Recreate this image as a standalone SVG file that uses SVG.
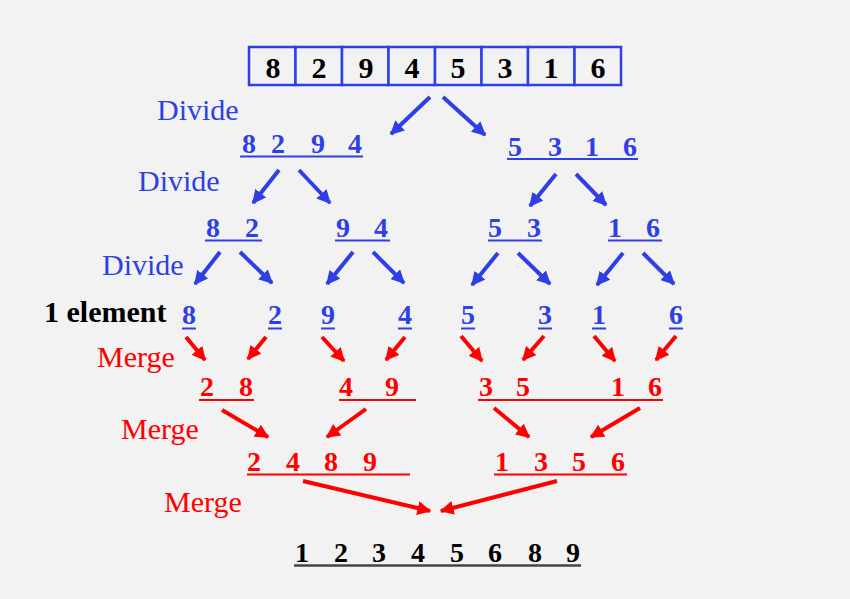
<svg xmlns="http://www.w3.org/2000/svg" width="850" height="599" viewBox="0 0 850 599">
<style>
.bg{fill:#f2f2f2}
.cell{fill:#f2f2f2;stroke:#2e3fe6;stroke-width:2.5}
.d{font-weight:bold;text-anchor:middle}
.box{font-size:30px;fill:#000}
.b{font-size:28px;fill:#2e3fe6}
.r{font-size:28px;fill:#ff0000}
.k{font-size:28px;fill:#000}
.lbl{font-size:30px}
.ub{stroke:#2e3fe6;stroke-width:2}
.ur{stroke:#ff0000;stroke-width:2}
.uk{stroke:#444;stroke-width:2.5}
.ab{stroke:#2e3fe6;stroke-width:4;fill:none;marker-end:url(#hb)}
.ar{stroke:#ff0000;stroke-width:4;fill:none;marker-end:url(#hr)}
</style>
<defs>
<marker id="hb" viewBox="0 0 10 10" refX="9" refY="5" markerWidth="14" markerHeight="14" markerUnits="userSpaceOnUse" orient="auto"><path d="M0,0 L10,5 L0,10 z" fill="#2e3fe6"/></marker>
<marker id="hr" viewBox="0 0 10 10" refX="9" refY="5" markerWidth="14" markerHeight="14" markerUnits="userSpaceOnUse" orient="auto"><path d="M0,0 L10,5 L0,10 z" fill="#ff0000"/></marker>
</defs>
<rect class="bg" x="0" y="0" width="850" height="599"/>
<g font-family="'Liberation Serif', 'Times New Roman', 'DejaVu Serif', serif">
<g id="array">
<rect class="cell" x="249" y="47" width="46.5" height="38"/>
<rect class="cell" x="295.5" y="47" width="46.5" height="38"/>
<rect class="cell" x="342" y="47" width="46.5" height="38"/>
<rect class="cell" x="388.5" y="47" width="46.5" height="38"/>
<rect class="cell" x="435" y="47" width="46.5" height="38"/>
<rect class="cell" x="481.5" y="47" width="46.5" height="38"/>
<rect class="cell" x="528" y="47" width="46.5" height="38"/>
<rect class="cell" x="574.5" y="47" width="46.5" height="38"/>
<text class="d box" y="78"><tspan x="273">8</tspan><tspan x="319">2</tspan><tspan x="366">9</tspan><tspan x="412">4</tspan><tspan x="458">5</tspan><tspan x="505">3</tspan><tspan x="551">1</tspan><tspan x="598">6</tspan></text>
</g>

<g id="labels">
<text class="lbl" x="157" y="120" fill="#2e3fe6">Divide</text>
<text class="lbl" x="138" y="191" fill="#2e3fe6">Divide</text>
<text class="lbl" x="102" y="275" fill="#2e3fe6">Divide</text>
<text class="lbl" x="44" y="322" font-weight="bold" fill="#000">1 element</text>
<text class="lbl" x="97" y="367" fill="#ff0000">Merge</text>
<text class="lbl" x="121" y="439" fill="#ff0000">Merge</text>
<text class="lbl" x="164" y="512" fill="#ff0000">Merge</text>
</g>

<g id="l1-left">
<text class="d b" y="153"><tspan x="249">8</tspan><tspan x="278">2</tspan><tspan x="318">9</tspan><tspan x="355">4</tspan></text>
<line class="ub" x1="240" y1="156.5" x2="363" y2="156.5"/>
</g>
<g id="l1-right">
<text class="d b" y="156"><tspan x="515">5</tspan><tspan x="555">3</tspan><tspan x="592">1</tspan><tspan x="630">6</tspan></text>
<line class="ub" x1="507" y1="159" x2="638" y2="159"/>
</g>

<g id="l2-82"><text class="d b" y="237"><tspan x="213">8</tspan><tspan x="252">2</tspan></text><line class="ub" x1="205" y1="240.5" x2="262" y2="240.5"/></g>
<g id="l2-94"><text class="d b" y="237"><tspan x="343">9</tspan><tspan x="381">4</tspan></text><line class="ub" x1="335" y1="240.5" x2="390" y2="240.5"/></g>
<g id="l2-53"><text class="d b" y="237"><tspan x="495">5</tspan><tspan x="534">3</tspan></text><line class="ub" x1="488" y1="240.5" x2="542" y2="240.5"/></g>
<g id="l2-16"><text class="d b" y="237"><tspan x="615">1</tspan><tspan x="653">6</tspan></text><line class="ub" x1="608" y1="240.5" x2="662" y2="240.5"/></g>

<g id="e8"><text class="d b" x="189" y="324">8</text><line class="ub" x1="182" y1="328.5" x2="196" y2="328.5"/></g>
<g id="e2"><text class="d b" x="275" y="324">2</text><line class="ub" x1="268" y1="328.5" x2="282" y2="328.5"/></g>
<g id="e9"><text class="d b" x="328" y="324">9</text><line class="ub" x1="321" y1="328.5" x2="335" y2="328.5"/></g>
<g id="e4"><text class="d b" x="405" y="324">4</text><line class="ub" x1="398" y1="328.5" x2="412" y2="328.5"/></g>
<g id="e5"><text class="d b" x="468" y="324">5</text><line class="ub" x1="461" y1="328.5" x2="475" y2="328.5"/></g>
<g id="e3"><text class="d b" x="545" y="324">3</text><line class="ub" x1="538" y1="328.5" x2="552" y2="328.5"/></g>
<g id="e1"><text class="d b" x="599" y="324">1</text><line class="ub" x1="592" y1="328.5" x2="606" y2="328.5"/></g>
<g id="e6"><text class="d b" x="676" y="324">6</text><line class="ub" x1="669" y1="328.5" x2="683" y2="328.5"/></g>

<g id="m-28"><text class="d r" y="396"><tspan x="207">2</tspan><tspan x="246">8</tspan></text><line class="ur" x1="199" y1="400" x2="254" y2="400"/></g>
<g id="m-49"><text class="d r" y="396"><tspan x="346">4</tspan><tspan x="392">9</tspan></text><line class="ur" x1="339" y1="400" x2="416" y2="400"/></g>
<g id="m-35-16"><text class="d r" y="396"><tspan x="486">3</tspan><tspan x="523">5</tspan><tspan x="618">1</tspan><tspan x="655">6</tspan></text><line class="ur" x1="478" y1="400" x2="663" y2="400"/></g>

<g id="m-2489"><text class="d r" y="471"><tspan x="254">2</tspan><tspan x="293">4</tspan><tspan x="331">8</tspan><tspan x="370">9</tspan></text><line class="ur" x1="247" y1="474.5" x2="410" y2="474.5"/></g>
<g id="m-1356"><text class="d r" y="471"><tspan x="502">1</tspan><tspan x="541">3</tspan><tspan x="579">5</tspan><tspan x="618">6</tspan></text><line class="ur" x1="494" y1="474.5" x2="627" y2="474.5"/></g>

<g id="result"><text class="d k" y="562"><tspan x="302">1</tspan><tspan x="341">2</tspan><tspan x="379">3</tspan><tspan x="418">4</tspan><tspan x="457">5</tspan><tspan x="495">6</tspan><tspan x="535">8</tspan><tspan x="573">9</tspan></text><line class="uk" x1="294" y1="565.5" x2="581" y2="565.5"/></g>
</g>
<g id="connectors">
<line class="ab" x1="430" y1="97" x2="391" y2="134"/>
<line class="ab" x1="443" y1="97" x2="485" y2="135"/>
<line class="ab" x1="279" y1="170" x2="253" y2="203"/>
<line class="ab" x1="299" y1="170" x2="330" y2="203"/>
<line class="ab" x1="556" y1="174" x2="530" y2="206"/>
<line class="ab" x1="576" y1="174" x2="606" y2="205"/>
<line class="ab" x1="220" y1="252" x2="195" y2="284"/>
<line class="ab" x1="240" y1="252" x2="272" y2="283"/>
<line class="ab" x1="353" y1="252" x2="327" y2="284"/>
<line class="ab" x1="373" y1="252" x2="404" y2="283"/>
<line class="ab" x1="498" y1="253" x2="472" y2="285"/>
<line class="ab" x1="518" y1="253" x2="550" y2="284"/>
<line class="ab" x1="623" y1="253" x2="597" y2="285"/>
<line class="ab" x1="643" y1="253" x2="674" y2="284"/>
<line class="ar" x1="186" y1="337" x2="205" y2="360"/>
<line class="ar" x1="266" y1="337" x2="248" y2="359"/>
<line class="ar" x1="322" y1="337" x2="344" y2="361"/>
<line class="ar" x1="405" y1="337" x2="386" y2="360"/>
<line class="ar" x1="461" y1="336" x2="482" y2="361"/>
<line class="ar" x1="544" y1="336" x2="523" y2="360"/>
<line class="ar" x1="594" y1="336" x2="615" y2="361"/>
<line class="ar" x1="676" y1="336" x2="656" y2="360"/>
<line class="ar" x1="222" y1="410" x2="268" y2="437"/>
<line class="ar" x1="366" y1="409" x2="327" y2="437"/>
<line class="ar" x1="494" y1="408" x2="529" y2="437"/>
<line class="ar" x1="640" y1="408" x2="591" y2="437"/>
<line class="ar" x1="303" y1="481" x2="430" y2="511"/>
<line class="ar" x1="557" y1="481" x2="441" y2="511"/>
</g>
</svg>
